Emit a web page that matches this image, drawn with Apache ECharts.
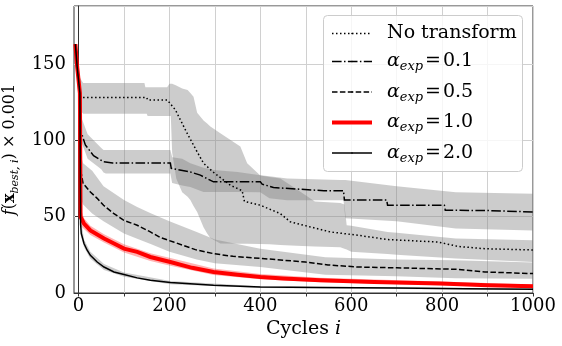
<!DOCTYPE html>
<html><head><meta charset="utf-8">
<script src="https://cdn.jsdelivr.net/npm/echarts@6/dist/echarts.min.js"></script>
<style>html,body{margin:0;padding:0;background:#fff}#c{width:562px;height:346px}</style>
</head><body><div id="c"></div>
<script>
// ---- axes ----
const xMin = -10, xMax = 1000, yMin = 0, yMax = 188;
const xTickValues = [0,100,200,300,400,500,600,700,800,900,1000];
const xLabelValues = [0,200,400,600,800,1000];
const gridX = [0,100,200,300,400,500,600,700,800,900,1000];

// ---- series names ----
const names = ['No transform', 'α_exp = 0.1', 'α_exp = 0.5', 'α_exp = 1.0', 'α_exp = 2.0'];

// ---- No transform (dotted) ----
const ntX = [-7,-3,3,5,150,152,195,213,240,260,275,297,334,360,365,400,444,466,510,554,615,681,791,835,894,1000];
const ntY = [163,148,131,128,128,126.5,126.5,120,104,93,85,79,70.6,67,60,57.5,52,46.6,43.3,40,37.8,35,33.4,30.5,29,28.2];
const ntBandX = [-7,3,10,145,147,150,152,195,200,203,206,215,228,240,246,253,261,275,283,290,312,356,371,400,420,444,480,520,576,585,590,600,680,700,830,1000];
const ntHi = [163,141,137.5,137.5,134.7,134.7,134.7,134.7,137,137,137,136,134,133,131,128.5,118,113,111,109,104.6,96,85,77,76,75,68,60,59,58,44.4,44,40,39.5,35.7,34.6];
const ntLo = [160,120,117.5,117.5,117.5,117.5,116,116,116,116,92,75,66,63,61,57,53,43,39,36,32.5,32.3,32.2,32.1,32,31.5,31,30.5,30,29,28.5,27,25.5,25,22.6,20.3];

// ---- alpha 0.1 (dash-dot) ----
const a1X = [-7,-3,3,4,15,33,55,75,202,204,246,268,297,400,404,429,540,583,585,678,680,805,807,900,1000];
const a1Y = [163,148,131,107,97,90,86,85.2,85.2,81.6,79.3,77.2,72.8,72.8,71.3,69.1,67,67,61,61,57.5,57.5,54.2,54,53.1];
const a1BandX = [-7,3,5,20,50,55,60,202,206,228,246,275,297,350,400,420,459,576,583,587,700,830,1000];
const a1Hi = [163,125,116,104,95,93.6,93.6,93.6,89,88,85,82,80.5,79.3,77.2,76.5,75,74,74,74,70,66,65];
const a1Lo = [160,112,100,88,81,79,78.3,78.3,72,70.5,69.5,66.2,66.2,66.1,66,62,60.8,60.8,60.8,49,47,42.2,41];

// ---- alpha 0.5 (dashed) ----
const a5X = [-7,-3,3,5,10,26,41,55,77,99,129,158,180,209,257,297,340,404,499,549,615,700,835,894,1000];
const a5Y = [163,148,131,80,71.7,66.2,62,57.5,52.2,47.7,44.4,40,36.3,33.4,28.4,25.8,24,22.6,20.3,18.4,17,16.5,15.5,13.8,12.7];
const a5BandX = [-7,3,5,10,30,55,100,129,160,200,260,300,400,543,700,829,1000];
const a5Hi = [163,131,90,85,80,70,61,56.4,52,47,40,35,29,23.5,22,21.4,20];
const a5Lo = [160,125,62,58,52,47,39,35.5,32,27,22,19.5,17,12,11,9.6,9.4];

// ---- alpha 1.0 (red) ----
const a10X = [-7,-3,3,4.4,12,26,56,78,100,129,158,202,250,297,350,400,450,532,650,796,900,1000];
const a10Y = [163,148,131,50,45.5,41,35.7,32.4,29.1,26.9,23.6,20.3,16.5,13.8,12,10.5,9.5,8.3,7.2,6.2,5,4.4];
const a10BandX = [-7,3,4.4,12,26,56,100,158,202,297,400,532,796,1000];
const a10Hi = [163,133,56,49,44,38.5,32,26,23,16,12.5,10,7.5,5.5];
const a10Lo = [160,129,44,42,38,33,26.5,21,17.8,11.8,9,7,5,3.5];

// ---- alpha 2.0 (black) ----
const a20X = [-7,-3,3,4.5,6,12,19,26,41,56,78,100,129,158,202,297,400,532,700,850,1000];
const a20Y = [163,148,131,45,39,32.4,28,24.7,20.3,17,13.8,12.1,9.9,8.3,6.8,5,3.9,3.6,3.2,2.8,2.5];
const a20BandX = [-7,3,4.5,12,26,56,100,202,400,1000];
const a20Hi = [163,133,50,35,27,19,13.5,7.8,4.5,3];
const a20Lo = [160,129,38,30,22.5,15,10.7,5.8,3.3,2];

const FONT = 'DejaVu Serif';
const GRAY_BAND = 'rgba(128,128,128,0.4)';
const RED_BAND = 'rgba(255,0,0,0.3)';

function pairs(xs, ys) { return xs.map((x, i) => [x, ys[i]]); }

function bandSeries(id, xs, lo, hi, color) {
  return {
    id: id, name: id, type: 'custom', z: 1, silent: true,
    coordinateSystem: 'cartesian2d',
    data: xs.map((x, i) => [x, lo[i], hi[i]]),
    encode: { x: 0, y: [1, 2] },
    renderItem: function (params, api) {
      if (params.dataIndex !== 0) return null;
      const pts = [];
      for (let i = 0; i < xs.length; i++) pts.push(api.coord([xs[i], hi[i]]));
      for (let i = xs.length - 1; i >= 0; i--) pts.push(api.coord([xs[i], lo[i]]));
      return { type: 'polygon', shape: { points: pts }, style: { fill: color, stroke: null } };
    }
  };
}

const lineDefs = [
  { name: names[0], xs: ntX, ys: ntY, color: '#000', width: 1.5, type: [1.5, 2.5] },
  { name: names[1], xs: a1X, ys: a1Y, color: '#000', width: 1.5, type: [9.6, 2.4, 1.5, 2.4] },
  { name: names[2], xs: a5X, ys: a5Y, color: '#000', width: 1.5, type: [5.5, 2.4] },
  { name: names[3], xs: a10X, ys: a10Y, color: '#ff0000', width: 4, type: 'solid' },
  { name: names[4], xs: a20X, ys: a20Y, color: '#000', width: 1.5, type: 'solid' }
];

const series = [
  bandSeries('b0', ntBandX, ntLo, ntHi, GRAY_BAND),
  bandSeries('b1', a1BandX, a1Lo, a1Hi, GRAY_BAND),
  bandSeries('b2', a5BandX, a5Lo, a5Hi, GRAY_BAND),
  bandSeries('b3', a10BandX, a10Lo, a10Hi, RED_BAND),
  bandSeries('b4', a20BandX, a20Lo, a20Hi, GRAY_BAND)
];
lineDefs.forEach((d, k) => {
  const s = {
    name: d.name, type: 'line', z: 3, symbol: 'none', showSymbol: false, silent: true,
    data: pairs(d.xs, d.ys),
    itemStyle: { color: d.color },
    lineStyle: { color: d.color, width: d.width, type: d.type, cap: 'butt', join: 'miter' }
  };
  if (k === 0) {
    s.markLine = {
      silent: true, symbol: 'none', z: 0, animation: false,
      label: { show: false },
      lineStyle: { color: '#d0d0d0', width: 1, type: 'solid' },
      emphasis: { disabled: true },
      data: gridX.map(v => ({ xAxis: v }))
    };
  }
  series.push(s);
});

function legendLabel(name) {
  if (name === 'No transform') return '{n|No transform}';
  const v = name.split('= ')[1];
  return '{a|α}{s|exp}{n|\u200a=\u200a' + v + '}';
}

const chart = echarts.init(document.getElementById('c'), null, { renderer: 'canvas' });
chart.setOption({
  animation: false,
  backgroundColor: '#fff',
  grid: { left: 74, right: 29, top: 6, bottom: 53, show: true, borderColor: '#333', borderWidth: 1, containLabel: false, outerBoundsMode: 'none' },
  graphic: [{
    type: 'rect', left: 323, top: 15, z: 9, silent: true,
    shape: { width: 199, height: 156, r: 4 },
    style: { fill: 'rgba(255,255,255,0.8)', stroke: '#cccccc', lineWidth: 1 }
  }],
  xAxis: {
    type: 'value', min: xMin, max: xMax,
    name: '{n|Cycles }{i|i}', nameLocation: 'middle', nameGap: 22,
    nameTextStyle: { fontFamily: FONT, fontSize: 19, color: '#000',
      rich: { n: { fontFamily: FONT, fontSize: 19, color: '#000' }, i: { fontFamily: FONT, fontSize: 19, fontStyle: 'italic', color: '#000' } } },
    axisLine: { show: true, lineStyle: { color: '#333', width: 1 } },
    axisTick: { show: true, length: 3.5, lineStyle: { color: '#333' }, customValues: xTickValues },
    axisLabel: { fontFamily: FONT, fontSize: 18, color: '#000', margin: 4, customValues: xLabelValues, formatter: v => String(v) },
    splitLine: { show: false }
  },
  yAxis: {
    type: 'value', min: yMin, max: yMax, interval: 50,
    name: '{i|f}{n|(}{b|x}{s|best, i}{n|) × 0.001}', nameLocation: 'middle', nameGap: 28, nameRotate: 90,
    nameTextStyle: { fontFamily: FONT, fontSize: 16, color: '#000',
      rich: {
        n: { fontFamily: FONT, fontSize: 16, color: '#000', lineHeight: 22 },
        i: { fontFamily: FONT, fontSize: 16, fontStyle: 'italic', color: '#000', lineHeight: 22 },
        b: { fontFamily: FONT, fontSize: 16, fontWeight: 'bold', color: '#000', lineHeight: 22 },
        s: { fontFamily: FONT, fontSize: 11, fontStyle: 'italic', color: '#000', lineHeight: 11, verticalAlign: 'bottom' }
      } },
    axisLine: { show: true, lineStyle: { color: '#333', width: 1 } },
    axisTick: { show: true, length: 3.5, lineStyle: { color: '#333' } },
    axisLabel: { fontFamily: FONT, fontSize: 18, color: '#000', margin: 8, showMaxLabel: false },
    splitLine: { show: true, lineStyle: { color: '#d0d0d0', width: 1 } }
  },
  legend: {
    left: 323, top: 15, orient: 'vertical',
    padding: [9, 9, 10, 7],
    itemWidth: 40, itemHeight: 2, itemGap: 9,
    backgroundColor: 'transparent', borderWidth: 0,
    selectedMode: false, z: 10,
    formatter: legendLabel,
    textStyle: { fontFamily: FONT, fontSize: 19, color: '#000', padding: [0, 0, 0, 10],
      rich: {
        n: { fontFamily: FONT, fontSize: 19, color: '#000', lineHeight: 24 },
        a: { fontFamily: FONT, fontSize: 19, fontStyle: 'italic', color: '#000', lineHeight: 24 },
        s: { fontFamily: FONT, fontSize: 13, fontStyle: 'italic', color: '#000', lineHeight: 12, verticalAlign: 'bottom' }
      } },
    data: lineDefs.map(d => ({ name: d.name,
      itemStyle: { color: d.color },
      lineStyle: { color: d.color, width: d.width, type: d.type } }))
  },
  series: series
});
</script>
</body></html>
